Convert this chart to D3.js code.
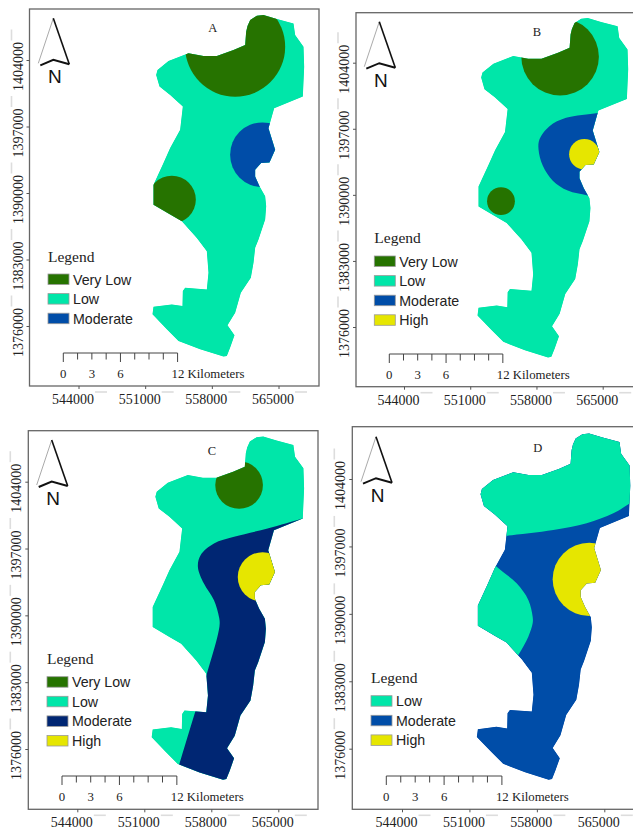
<!DOCTYPE html>
<html>
<head>
<meta charset="utf-8">
<style>
    html, body { margin: 0; padding: 0; background: #fff; overflow: hidden; }
    svg { display: block; }
</style>
<script src="https://cdn.jsdelivr.net/npm/d3@7/dist/d3.min.js"></script>
</head>
<body>
<div id="vis-container"></div>
<script>
var eastingTicks = [544000, 551000, 558000, 565000];
var northingTicks = [1404000, 1397000, 1390000, 1383000, 1376000];
var scaleKm = [0, 1.5, 3, 4.5, 6, 7.5, 9, 10.5, 12];
var scaleKmLabels = [0, 3, 6];

// boundary of the study area, [easting, northing]
var outline = [
    [563425, 1408725], [564825, 1408305], [566575, 1407850], [566750, 1406625], [567625, 1405400],
    [567695, 1403300], [567555, 1400150], [564545, 1398925], [563950, 1396825], [564650, 1394550],
    [564055, 1393220], [563180, 1393150], [562550, 1392450], [562550, 1391750], [563005, 1390700],
    [563600, 1389650], [563705, 1388600], [563600, 1387200], [562900, 1385100], [562550, 1384225],
    [562375, 1382650], [562095, 1381075], [561045, 1379500], [560450, 1377400], [559645, 1376070],
    [560380, 1375020], [559925, 1373725], [559575, 1372850], [559225, 1372780], [556775, 1373550],
    [554500, 1374425], [553275, 1375650], [551770, 1377225], [551875, 1378030], [553800, 1378275],
    [554920, 1378100], [554955, 1379675], [555200, 1380025], [557475, 1379850], [557650, 1381600],
    [557475, 1383875], [556425, 1385275], [554850, 1387025], [553625, 1387725], [551875, 1388775],
    [551875, 1390875], [552925, 1393150], [553625, 1394725], [554675, 1396650], [554955, 1399100],
    [553625, 1400325], [552505, 1401200], [552155, 1402425], [552295, 1402950], [553450, 1403895],
    [555550, 1404700], [557125, 1404420], [558525, 1404420], [560275, 1405050], [561500, 1405575],
    [561605, 1406975], [561745, 1407570], [562025, 1408200], [562725, 1408655]
];

// round zones: [easting, northing, radius in metres]
var panelAVeryLow = [[560450, 1405400, 5250], [553800, 1389300, 2520]];
var panelAModerate = [[563320, 1394025, 3400]];
var panelBVeryLow = [[560497, 1404630, 4100], [554249, 1389335, 1470]];
var panelBHigh = [[563059, 1394305, 1610]];
var panelCVeryLow = [[560905, 1403650, 2490]];
var panelCHigh = [[563355, 1394025, 2590]];
var panelDHigh = [[563445, 1393585, 3806]];

// curved zone edges, closed with straight corners outside the boundary
var panelBModerateEdge = [
    [566000, 1398950], [564463, 1398680], [561129, 1398155], [559374, 1397280], [558321, 1395880],
    [558216, 1394830], [558672, 1393080], [559725, 1391505], [561304, 1390455], [563410, 1389930],
    [566000, 1389300]
];
var panelCModerateEdge = [
    [569480, 1400745], [567730, 1400220], [563880, 1399100], [560380, 1398225], [558280, 1397525],
    [556880, 1396300], [556600, 1395075], [557230, 1393325], [558280, 1391575], [558805, 1389825],
    [558875, 1389125], [558630, 1387725], [557580, 1384050], [556250, 1379675], [554605, 1374250],
    [554080, 1372500]
];
var panelCModerateClose = [[570000, 1372000], [570000, 1400745]];
var panelDLowTopEdge = [
    [554172, 1398014], [554968, 1398118], [559708, 1398706], [563168, 1399398], [565936, 1400436],
    [567666, 1401474], [569050, 1402443]
];
var panelDLowTopClose = [[569050, 1412000], [550000, 1412000], [550000, 1398014]];
var panelDLowWestEdge = [
    [553134, 1395592], [553826, 1394900], [555902, 1393170], [557113, 1391440], [557563, 1389710],
    [557563, 1389018], [557113, 1387634], [556075, 1385731], [555210, 1384520]
];
var panelDLowWestClose = [[548000, 1384520], [548000, 1395592]];

var legendA = ["Very Low", "Low", "Moderate"];
var legendB = ["Very Low", "Low", "Moderate", "High"];
var legendC = ["Very Low", "Low", "DarkModerate", "High"];
var legendD = ["Low", "Moderate", "High"];

var colors = {
    "Very Low": "#267300",
    "Low": "#00E6A9",
    "Moderate": "#004DA8",
    "DarkModerate": "#002673",
    "High": "#E6E600"
};

var panels = [
    { name: "A", base: "Low", legend: legendA,
      left: 29.5, top: 9, right: 319, bottom: 386,
      xr: [78.5, 278.5], yr: [60, 326],
      titleAt: [212.7, 32], north: [53.3, 18.3], legendAt: [48, 261.5, 274], scaleAt: [63.3, 353],
      circles: [[panelAVeryLow, "Very Low"], [panelAModerate, "Moderate"]], edges: [] },
    { name: "B", base: "Low", legend: legendB,
      left: 356, top: 12.7, right: 660, bottom: 386.7,
      xr: [404, 602.7], yr: [62.7, 327],
      titleAt: [537, 36], north: [379.3, 21.7], legendAt: [374.3, 243, 256], scaleAt: [389.3, 354],
      circles: [[panelBVeryLow, "Very Low"], [panelBHigh, "High"]],
      edges: [[panelBModerateEdge, [], "Moderate"]] },
    { name: "C", base: "Low", legend: legendC,
      left: 28.3, top: 430.7, right: 318, bottom: 809.3,
      xr: [77.3, 278.3], yr: [481.7, 749],
      titleAt: [212, 455], north: [51.7, 440], legendAt: [47, 664, 676.7], scaleAt: [62, 776],
      circles: [[panelCVeryLow, "Very Low"], [panelCHigh, "High"]],
      edges: [[panelCModerateEdge, panelCModerateClose, "DarkModerate"]] },
    { name: "D", base: "Moderate", legend: legendD,
      left: 352.3, top: 426.7, right: 660, bottom: 809.3,
      xr: [402, 604.3], yr: [479, 748.7],
      titleAt: [537.7, 451.7], north: [376, 436.7], legendAt: [371, 683, 695.7], scaleAt: [386.3, 776],
      circles: [[panelDHigh, "High"]],
      edges: [[panelDLowTopEdge, panelDLowTopClose, "Low"], [panelDLowWestEdge, panelDLowWestClose, "Low"]] }
];

var SERIF = "'Liberation Serif', 'Times New Roman', serif";
var SANS = "'Liberation Sans', Arial, sans-serif";

var svg = d3.select("#vis-container")
    .append("svg")
    .attr("width", 633)
    .attr("height", 829);

var defs = svg.append("defs");

var drawPanel = function (p) {
    var x = d3.scaleLinear().domain([544000, 565000]).range(p.xr);
    var y = d3.scaleLinear().domain([1404000, 1376000]).range(p.yr);
    var g = svg.append("g").attr("class", "panel-" + p.name);

    // Frame
    g.append("rect")
        .attr("x", p.left)
        .attr("y", p.top)
        .attr("width", p.right - p.left)
        .attr("height", p.bottom - p.top)
        .attr("fill", "#fff")
        .attr("stroke", "#666")
        .attr("stroke-width", 1.3);

    // Map, every zone is cut by the study area boundary
    var straightLine = d3.line()
        .x(function (d) { return x(d[0]); })
        .y(function (d) { return y(d[1]); });
    var edgeLine = d3.line()
        .x(function (d) { return x(d[0]); })
        .y(function (d) { return y(d[1]); })
        .curve(d3.curveCatmullRom.alpha(0.5));

    var outlinePath = straightLine(outline) + "Z";

    defs.append("clipPath")
        .attr("id", "clip-" + p.name)
        .append("path")
        .attr("d", outlinePath);

    var map = g.append("g").attr("clip-path", "url(#clip-" + p.name + ")");

    map.append("path")
        .attr("d", outlinePath)
        .attr("fill", colors[p.base])
        .attr("stroke", colors[p.base])
        .attr("stroke-width", 2);

    p.edges.forEach(function (e) {
        var d = edgeLine(e[0]);
        if (e[1].length) d += straightLine(e[1]).replace("M", "L");
        map.append("path")
            .attr("d", d + "Z")
            .attr("fill", colors[e[2]]);
    });

    p.circles.forEach(function (c) {
        map.selectAll(null)
            .data(c[0])
            .enter().append("circle")
            .attr("cx", function (d) { return x(d[0]); })
            .attr("cy", function (d) { return y(d[1]); })
            .attr("r", function (d) { return x(d[0] + d[2]) - x(d[0]); })
            .attr("fill", colors[c[1]]);
    });

    // Axes
    var xAxis = d3.axisBottom(x).tickValues(eastingTicks).tickSize(3).tickFormat(d3.format("d"));
    var xG = g.append("g")
        .attr("transform", "translate(0," + p.bottom + ")")
        .call(xAxis);
    xG.select(".domain").remove();
    xG.selectAll(".tick line").attr("stroke", "#555");
    xG.selectAll(".tick text")
        .attr("x", -6)
        .attr("y", 18)
        .attr("dy", 0)
        .attr("font-family", SERIF)
        .attr("font-size", 14)
        .attr("fill", "#222");
    xG.selectAll(".tick").append("line")
        .attr("class", "ghost")
        .attr("x1", 16)
        .attr("x2", 28)
        .attr("y1", 6)
        .attr("y2", 6)
        .attr("stroke", "#ddd")
        .attr("stroke-width", 1.6);

    var yAxis = d3.axisLeft(y).tickValues(northingTicks).tickSize(3).tickFormat(d3.format("d"));
    var yG = g.append("g")
        .attr("transform", "translate(" + p.left + ",0)")
        .call(yAxis);
    yG.select(".domain").remove();
    yG.selectAll(".tick line").attr("stroke", "#555");
    yG.selectAll(".tick text")
        .attr("transform", "rotate(-90)")
        .attr("x", -6)
        .attr("y", -7)
        .attr("dy", 0)
        .attr("text-anchor", "middle")
        .attr("font-family", SERIF)
        .attr("font-size", 14)
        .attr("fill", "#222");
    yG.selectAll(".tick").append("line")
        .attr("class", "ghost")
        .attr("x1", -18)
        .attr("x2", -18)
        .attr("y1", -31)
        .attr("y2", -20)
        .attr("stroke", "#ddd")
        .attr("stroke-width", 1.6);

    // Panel letter
    g.append("text")
        .attr("x", p.titleAt[0])
        .attr("y", p.titleAt[1])
        .attr("text-anchor", "middle")
        .attr("font-family", SERIF)
        .attr("font-size", 12.5)
        .attr("fill", "#222")
        .text(p.name);

    // North arrow
    var n = g.append("g").attr("transform", "translate(" + p.north[0] + "," + p.north[1] + ")");
    n.append("path").attr("d", "M0,0L-15,45")
        .attr("stroke", "#aaa").attr("stroke-width", 1).attr("fill", "none");
    n.append("path").attr("d", "M0,0L16,46")
        .attr("stroke", "#111").attr("stroke-width", 1.6).attr("fill", "none");
    n.append("path").attr("d", "M-13,47L0,41.5L16,46")
        .attr("stroke", "#111").attr("stroke-width", 2).attr("fill", "none");
    n.append("text")
        .attr("x", 1.5)
        .attr("y", 65)
        .attr("text-anchor", "middle")
        .attr("font-family", SANS)
        .attr("font-size", 19)
        .attr("fill", "#111")
        .text("N");

    // Legend
    g.append("text")
        .attr("x", p.legendAt[0])
        .attr("y", p.legendAt[1])
        .attr("font-family", SERIF)
        .attr("font-size", 15.5)
        .attr("fill", "#222")
        .text("Legend");

    var items = g.selectAll(".legend-item")
        .data(p.legend)
        .enter().append("g")
        .attr("class", "legend-item")
        .attr("transform", function (d, i) {
            return "translate(" + p.legendAt[0] + "," + (p.legendAt[2] + i * 19.6) + ")";
        });
    items.append("rect")
        .attr("width", 21)
        .attr("height", 10.5)
        .attr("fill", function (d) { return colors[d]; })
        .attr("stroke", "#999")
        .attr("stroke-width", 0.8);
    items.append("text")
        .attr("x", 25)
        .attr("y", 10.5)
        .attr("font-family", SANS)
        .attr("font-size", 14.2)
        .attr("fill", "#222")
        .text(function (d) { return d === "DarkModerate" ? "Moderate" : d; });

    // Scale bar, uses the map's own metres per pixel
    var km = d3.scaleLinear()
        .domain([0, 12])
        .range([p.scaleAt[0], p.scaleAt[0] + (x(556000) - x(544000))]);
    var bar = g.append("g").attr("transform", "translate(0," + p.scaleAt[1] + ")");
    bar.append("line")
        .attr("x1", km(0))
        .attr("x2", km(12))
        .attr("stroke", "#444")
        .attr("stroke-width", 1);
    bar.selectAll(".scale-tick")
        .data(scaleKm)
        .enter().append("line")
        .attr("class", "scale-tick")
        .attr("x1", function (d) { return km(d); })
        .attr("x2", function (d) { return km(d); })
        .attr("y1", 0)
        .attr("y2", function (d) { return d % 6 === 0 ? 9 : 6.5; })
        .attr("stroke", "#444")
        .attr("stroke-width", 1);
    bar.selectAll(".scale-label")
        .data(scaleKmLabels)
        .enter().append("text")
        .attr("class", "scale-label")
        .attr("x", function (d) { return km(d); })
        .attr("y", 25)
        .attr("text-anchor", "middle")
        .attr("font-family", SERIF)
        .attr("font-size", 12.8)
        .attr("fill", "#222")
        .text(function (d) { return d; });
    bar.append("text")
        .attr("x", km(12) - 6)
        .attr("y", 25)
        .attr("font-family", SERIF)
        .attr("font-size", 12.8)
        .attr("fill", "#222")
        .text("12 Kilometers");
};

panels.forEach(drawPanel);
</script>
</body>
</html>
